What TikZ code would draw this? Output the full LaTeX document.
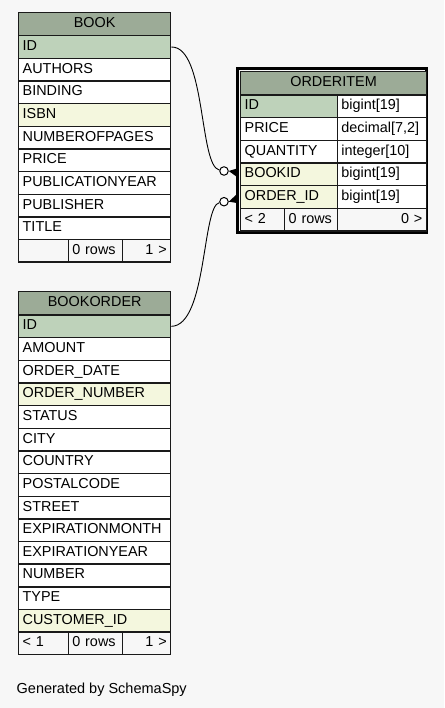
\documentclass[tikz,border=0pt]{standalone}
\usepackage{fontspec}
\setmainfont{Liberation Sans}
\definecolor{bgc}{HTML}{F7F7F7}
\definecolor{headc}{HTML}{9CAB97}
\definecolor{pkc}{HTML}{BED2BA}
\definecolor{idxc}{HTML}{F4F7DE}
\definecolor{bordc}{HTML}{1A1A1A}
\newcommand\tabfnt{\fontsize{14.4}{16}\selectfont}
\begin{document}
\begin{tikzpicture}[x=1pt,y=-1pt,
  cellbase/.style={draw=bordc, line width=1.4pt, anchor=north west,
    minimum height=22.65pt, inner xsep=4pt, inner ysep=0pt,
    text height=10.4pt, text depth=3.4pt, font=\tabfnt, align=left},
  cell/.style={cellbase, text width=#1},
  rcell/.style={cellbase, text width=#1, align=right},
  hdr/.style={cellbase, fill=headc, minimum height=23.3pt, text width=#1, align=center},
  pk/.style={fill=pkc}, idx/.style={fill=idxc}, plain/.style={fill=white},
  foot/.style={fill=bgc},
  conn/.style={draw=black, line width=0.9pt},
  endcirc/.style={circle, draw=black, fill=white, line width=1pt, minimum size=8.5pt, inner sep=0pt},
  foottext/.style={font=\fontsize{14.5}{16}\selectfont, anchor=base west, inner sep=0pt}
]
\fill[bgc] (0,0) rectangle (444,708);
\useasboundingbox (0,0) rectangle (444,708);

% ---------------- BOOK ----------------
\node[hdr=144pt] (book-h) at (18,11.7) {BOOK};
\foreach \lab/\sty [count=\i] in {ID/pk, AUTHORS/plain, BINDING/plain, ISBN/idx,
   NUMBEROFPAGES/plain, PRICE/plain, PUBLICATIONYEAR/plain, PUBLISHER/plain, TITLE/plain}
  \node[cell=144pt, \sty] (book-\i) at (18,{35+(\i-1)*22.65}) {\lab};
\node[cell=41.7pt, foot] (book-f1) at (18,238.8) {};
\node[cell=46pt, foot] (book-f2) at (67.7,238.8) {0 rows};
\node[rcell=40.3pt, foot] (book-f3) at (121.7,238.8) {1 >};

% ---------------- BOOKORDER ----------------
\node[hdr=144pt] (bo-h) at (18,291) {BOOKORDER};
\foreach \lab/\sty [count=\i] in {ID/pk, AMOUNT/plain, ORDER\_DATE/plain, ORDER\_NUMBER/idx,
   STATUS/plain, CITY/plain, COUNTRY/plain, POSTALCODE/plain, STREET/plain,
   EXPIRATIONMONTH/plain, EXPIRATIONYEAR/plain, NUMBER/plain, TYPE/plain, CUSTOMER\_ID/idx}
  \node[cell=144pt, \sty] (bo-\i) at (18,{314.3+(\i-1)*22.65}) {\lab};
\node[cell=41.7pt, foot] (bo-f1) at (18,631.4) {< 1};
\node[cell=46pt, foot] (bo-f2) at (67.7,631.4) {0 rows};
\node[rcell=40.3pt, foot] (bo-f3) at (121.7,631.4) {1 >};

% ---------------- ORDERITEM ----------------
\draw[black, line width=3pt] (237.6,68.8) rectangle (426.3,232.2);
\node[hdr=177.7pt] (oi-h) at (240,71) {ORDERITEM};
\foreach \lab/\sty/\typ [count=\i] in {ID/pk/{bigint[19]}, PRICE/plain/{decimal[7,2]},
   QUANTITY/plain/{integer[10]}, BOOKID/idx/{bigint[19]}, ORDER\_ID/idx/{bigint[19]}}
  {
  \node[cell=88.7pt, \sty] (oi-n\i) at (240,{94.3+(\i-1)*22.65}) {\lab};
  \node[cell=81pt, plain] (oi-t\i) at (336.7,{94.3+(\i-1)*22.65}) {\typ};
  }
\node[cell=36pt, foot] (oi-f1) at (240,207.6) {< 2};
\node[cell=44.7pt, foot] (oi-f2) at (284,207.6) {0 rows};
\node[rcell=81pt, foot] (oi-f3) at (336.7,207.6) {0 >};

% ---------------- connectors ----------------
\node[endcirc] (c1) at (224,171) {};
\node[endcirc] (c2) at (224,201.7) {};
\draw[conn] (book-1.east) .. controls (206,46.3) and (199,166) .. (c1);
\draw[conn] (bo-1.east) .. controls (207,325.6) and (202,206) .. (c2);
\fill[black] (c1.east) -- (237,168.5) -- (237,177) -- cycle;
\fill[black] (c2.east) -- (237,194) -- (237,203) -- cycle;

\node[foottext] (gen) at (16.5,693.3) {Generated by SchemaSpy};
\end{tikzpicture}
\end{document}
